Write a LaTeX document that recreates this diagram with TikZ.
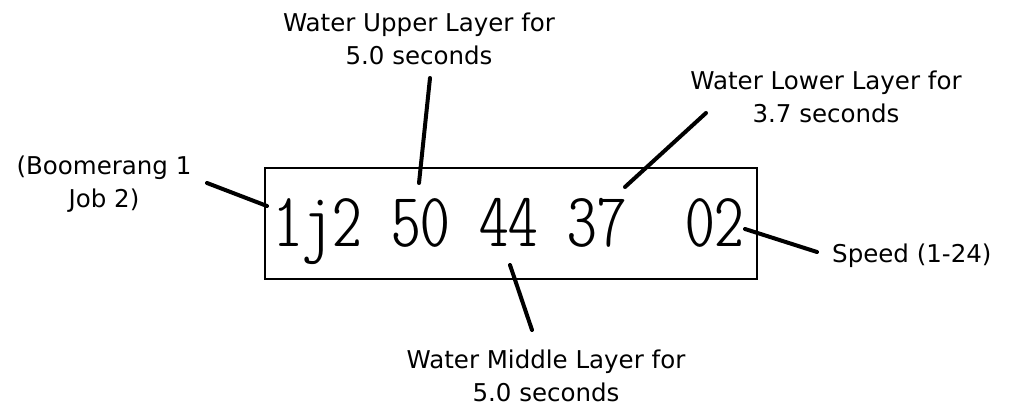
\documentclass[tikz,border=0pt]{standalone}
\usepackage{fontspec}
\usepackage{graphicx}
\setmainfont{DejaVu Sans}
\newcommand\dispfont{\fontfamily{lmtt}\fontseries{lc}\fontshape{n}\fontsize{77}{80}\selectfont}
\begin{document}
\begin{tikzpicture}[x=1pt,y=-1pt,
  lbl/.style={font=\fontsize{24.5}{33}\selectfont, align=center, inner sep=0pt, anchor=base},
  conn/.style={line width=4pt, line cap=round},
  frame/.style={draw, line width=2pt, minimum width=492pt, minimum height=111pt, inner sep=0pt}]
\useasboundingbox (0,0) rectangle (1010,411);
\node[frame] (box) at (511,223.5) {};
\node[inner sep=0pt, anchor=base] (code) at (508.8,247) {\resizebox{471pt}{\height}{\dispfont 1j2 50 44 37~~02}};
\node[lbl] (upper) at (419,65) {Water Upper Layer for\\5.0 seconds};
\node[lbl] (lower) at (826,123) {Water Lower Layer for\\3.7 seconds};
\node[lbl] (middle) at (546,402) {Water Middle Layer for\\5.0 seconds};
\node[lbl] (job) at (104,208) {(Boomerang 1\\Job 2)};
\node[lbl, anchor=base west] (speed) at (832,263) {Speed (1-24)};
\coordinate (jobA) at (207,183); \coordinate (jobB) at (267,206);
\coordinate (upA) at (430,78); \coordinate (upB) at (419,183);
\coordinate (loA) at (706,113); \coordinate (loB) at (625,187);
\coordinate (miA) at (510,265); \coordinate (miB) at (532,330);
\coordinate (spA) at (745,229); \coordinate (spB) at (817,252);
\draw[conn] (jobA) -- (jobB);
\draw[conn] (upA) -- (upB);
\draw[conn] (loA) -- (loB);
\draw[conn] (miA) -- (miB);
\draw[conn] (spA) -- (spB);
\end{tikzpicture}
\end{document}
